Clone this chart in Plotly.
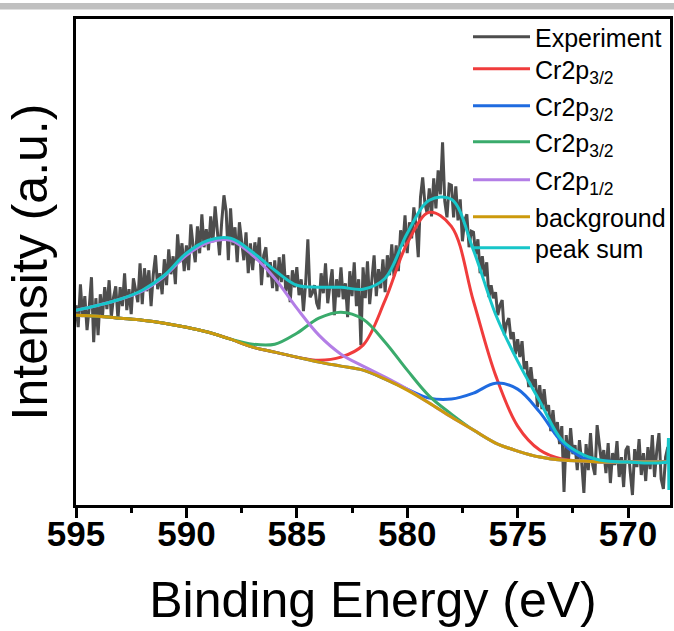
import numpy as np
import plotly.graph_objects as go

# ---------------- data ----------------
# fitted curves on a 1 eV grid (binding energy, eV)
fit_energy = [595, 594, 593, 592, 591, 590, 589, 588, 587, 586, 585, 584, 583, 582,
              581, 580, 579, 578, 577, 576, 575, 574, 573, 572, 571, 570, 569, 568]

background = [182, 181, 179, 177, 174, 170, 165, 158, 150, 145, 140, 135, 131, 127,
              118, 107, 94, 80, 67, 54, 46, 40, 37, 36, 35, 35, 35, 35]
cr_a = [182, 181, 179, 177, 174, 170, 165, 158, 150, 145, 140, 137, 140, 152,
        197, 254, 285, 271, 196, 122, 71, 47, 38, 36, 35, 35, 35, 35]
cr_b = [182, 181, 179, 177, 174, 170, 165, 158, 150, 145, 140, 135, 131, 127,
        118, 108, 99, 98, 104, 114, 108, 85, 55, 39, 36, 35, 35, 35]
cr_c = [182, 181, 179, 177, 174, 170, 165, 158, 153, 153, 164, 179, 185, 178,
        155, 127, 101, 83, 67, 54, 46, 40, 37, 36, 35, 35, 35, 35]
cr_half = [187, 192, 198, 206, 221, 242, 255, 257, 242, 219, 189, 162, 143, 131,
           120, 108, 94, 80, 67, 54, 46, 40, 37, 36, 35, 35, 35, 35]
peak_sum = [187, 192, 198, 207, 222, 244, 257, 259, 245, 227, 212, 210, 210, 208,
            219, 264, 297, 298, 247, 183, 136, 96, 57, 42, 36, 35, 34, 35]
# end artefact of the peak-sum curve at the right edge
sum_end_energy = [568.2, 568.17, 568.15]
sum_end_values = [35, 59, 7]

# experiment: 0.1 eV steps from 595.0 down to 568.0
exp_values = [
    192, 170, 213, 180, 201, 167, 190, 220, 155, 199,
    162, 203, 181, 210, 188, 217, 180, 200, 211, 178,
    210, 191, 224, 187, 208, 183, 219, 206, 195, 234,
    193, 229, 206, 227, 191, 223, 242, 208, 224, 203,
    238, 212, 248, 223, 241, 213, 263, 235, 254, 226,
    252, 227, 273, 252, 235, 271, 244, 283, 250, 268,
    247, 281, 255, 291, 264, 242, 276, 302, 286, 237,
    289, 252, 270, 235, 275, 254, 237, 265, 224, 254,
    227, 255, 237, 260, 212, 242, 250, 220, 235, 209,
    237, 206, 240, 215, 243, 206, 222, 195, 227, 210,
    230, 202, 218, 186, 214, 258, 200, 204, 212, 194,
    188, 224, 204, 234, 194, 212, 228, 182, 218, 200,
    230, 198, 214, 180, 226, 201, 235, 191, 218, 152,
    230, 199, 236, 193, 218, 242, 201, 228, 209, 238,
    205, 242, 222, 253, 221, 252, 226, 267, 251, 282,
    244, 275, 259, 290, 271, 240, 300, 320, 294, 284,
    309, 281, 319, 289, 327, 303, 355, 296, 280, 313,
    312, 280, 311, 277, 298, 256, 277, 283, 250, 266,
    265, 243, 258, 224, 241, 221, 235, 200, 212, 199,
    205, 182, 192, 197, 162, 174, 179, 158, 165, 143,
    158, 140, 156, 128, 136, 110, 130, 110, 118, 90,
    112, 88, 108, 86, 92, 66, 87, 63, 75, 53,
    71, 5, 62, 36, 69, 43, 52, 27, 57, 35,
    4, 53, 27, 64, 32, 22, 72, 54, 34, 47,
    24, 54, 14, 44, 32, 56, 20, 40, 10, 47,
    51, 25, 2, 48, 30, 58, 22, 44, 16, 50,
    28, 62, 20, 46, 64, 18, 8, 40, 50, 30,
    12,
]
exp_energy = np.round(595.0 - 0.1 * np.arange(len(exp_values)), 1)

x_ticks = [595, 590, 585, 580, 575, 570]

# ---------------- styling ----------------
FONT = "Arial, Liberation Sans, sans-serif"
W, H = 674, 631
ML, MR, MT, MB = 76, 4, 19, 126
plot_w = W - ML - MR
plot_h = H - MT - MB

names = ["Experiment", "Cr2p<sub>3/2</sub>", "Cr2p<sub>3/2</sub>", "Cr2p<sub>3/2</sub>",
         "Cr2p<sub>1/2</sub>", "background", "peak sum"]
colors = ["#4d4d4d", "#f03c3c", "#1f6be0", "#3aab6c", "#b37ee6", "#cc9a0c", "#17c6c9"]
# legend row centres (pixels from top of page)
row_px = [37, 69, 106, 142, 180, 217, 248]
legend_ids = ["legend"] + [f"legend{i}" for i in range(2, 8)]

fig = go.Figure()
fig.add_trace(go.Scatter(x=exp_energy, y=exp_values, mode="lines", name=names[0],
                         line=dict(color=colors[0], width=3), legend=legend_ids[0]))
for i, vals in enumerate([cr_a, cr_b, cr_c, cr_half, background, peak_sum], start=1):
    fig.add_trace(go.Scatter(x=fit_energy, y=vals, mode="lines", name=names[i],
                             line=dict(color=colors[i], width=3, shape="spline"),
                             legend=legend_ids[i]))
fig.add_trace(go.Scatter(x=sum_end_energy, y=sum_end_values, mode="lines",
                         line=dict(color=colors[6], width=3), showlegend=False))

legend_layout = {}
for i, lid in enumerate(legend_ids):
    legend_layout[lid] = dict(
        x=(468 - ML) / plot_w, xanchor="left",
        y=1 - (row_px[i] - MT) / plot_h, yanchor="middle",
        bgcolor="rgba(0,0,0,0)", font=dict(size=25, family=FONT, color="black"),
        itemwidth=57, borderwidth=0)

fig.update_layout(
    width=W, height=H,
    margin=dict(l=ML, r=MR, t=MT, b=MB, autoexpand=False),
    paper_bgcolor="white", plot_bgcolor="white",
    font=dict(family=FONT, color="black"),
    showlegend=True,
    xaxis=dict(range=[595, 568.1], tickvals=x_ticks, ticks="outside", ticklen=10,
               tickwidth=3, tickcolor="black", showline=True, linewidth=3,
               linecolor="black", mirror=True, showgrid=False, zeroline=False,
               ticklabelstandoff=-14,
               tickfont=dict(size=35, family=FONT, weight="bold"),
               minor=dict(dtick=2.5, tick0=570, ticks="outside", ticklen=5,
                          tickwidth=3, tickcolor="black", showgrid=False),
               title=dict(text="Binding Energy (eV)", font=dict(size=50, family=FONT),
                          standoff=30)),
    yaxis=dict(range=[-8, 478.5], showticklabels=False, ticks="", showline=True,
               linewidth=3, linecolor="black", mirror=True, showgrid=False,
               zeroline=False,
               title=dict(text="Intensity (a.u.)", font=dict(size=50, family=FONT),
                          standoff=10)),
    shapes=[dict(type="rect", xref="paper", yref="paper",
                 x0=-ML / plot_w, x1=(W - ML) / plot_w,
                 y0=1 + (MT - 9.5) / plot_h, y1=1 + (MT - 3) / plot_h,
                 fillcolor="#c0c0c0", line=dict(width=0), layer="above")],
    **legend_layout,
)

fig.write_html("out.html")
